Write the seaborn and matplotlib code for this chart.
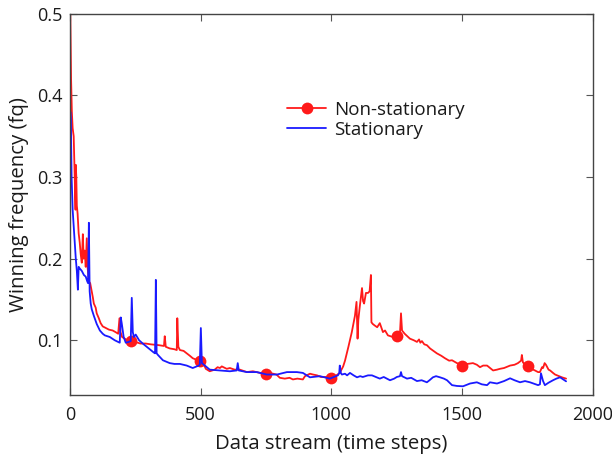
import matplotlib
matplotlib.use("Agg")
import matplotlib.pyplot as plt
import seaborn as sns
import pandas as pd

# ---- data ----
red_x = [0, 2, 5, 8, 11, 15, 19, 22, 23, 25, 27, 30, 34, 38, 42, 46, 50, 53, 57, 61, 65, 68, 73, 78, 84, 88, 92, 99, 103, 111,
         118, 126, 138, 150, 164, 175, 185, 190, 194, 200, 210, 220, 233, 250, 270, 290, 310, 340, 360, 363, 367, 382, 400, 409,
         411, 415, 421, 435, 447, 459, 470, 485, 497, 510, 520, 535, 554, 565, 574, 581, 600, 612, 630, 650, 677, 700, 727, 750,
         765, 790, 803, 822, 840, 853, 870, 891, 899, 918, 930, 945, 960, 980, 1000, 1015, 1032, 1045, 1052, 1065, 1078, 1090,
         1096, 1100, 1103, 1108, 1117, 1121, 1125, 1132, 1140, 1146, 1151, 1153, 1158, 1166, 1175, 1185, 1197, 1205, 1216, 1235,
         1250, 1262, 1266, 1270, 1280, 1300, 1315, 1327, 1335, 1340, 1346, 1355, 1365, 1377, 1390, 1403, 1420, 1434, 1450, 1461,
         1480, 1500, 1520, 1541, 1556, 1568, 1580, 1595, 1610, 1618, 1633, 1644, 1660, 1683, 1700, 1713, 1725, 1728, 1732, 1740,
         1750, 1765, 1778, 1790, 1797, 1805, 1809, 1815, 1820, 1830, 1836, 1847, 1855, 1870, 1881, 1897]
red_y = [0.5, 0.5, 0.42, 0.38, 0.36, 0.35, 0.30, 0.26, 0.315, 0.30, 0.265, 0.255, 0.231, 0.22, 0.205, 0.195, 0.23, 0.20, 0.21,
         0.19, 0.225, 0.19, 0.172, 0.17, 0.16, 0.153, 0.145, 0.14, 0.133, 0.127, 0.121, 0.117, 0.115, 0.113, 0.112, 0.110, 0.108,
         0.127, 0.110, 0.104, 0.102, 0.100, 0.099, 0.098, 0.096, 0.096, 0.095, 0.094, 0.093, 0.105, 0.092, 0.090, 0.089, 0.088,
         0.127, 0.092, 0.088, 0.087, 0.084, 0.081, 0.078, 0.076, 0.074, 0.072, 0.065, 0.062, 0.064, 0.067, 0.066, 0.068, 0.065,
         0.066, 0.064, 0.064, 0.061, 0.062, 0.060, 0.059, 0.060, 0.058, 0.054, 0.053, 0.054, 0.052, 0.053, 0.052, 0.056, 0.059,
         0.058, 0.057, 0.055, 0.055, 0.054, 0.056, 0.060, 0.068, 0.075, 0.092, 0.110, 0.130, 0.147, 0.102, 0.125, 0.140, 0.164,
         0.148, 0.145, 0.158, 0.158, 0.160, 0.180, 0.122, 0.120, 0.118, 0.116, 0.121, 0.110, 0.112, 0.106, 0.104, 0.105, 0.108,
         0.133, 0.112, 0.108, 0.102, 0.100, 0.098, 0.101, 0.097, 0.099, 0.095, 0.094, 0.090, 0.087, 0.084, 0.081, 0.078, 0.075,
         0.0755, 0.072, 0.069, 0.071, 0.072, 0.070, 0.067, 0.069, 0.069, 0.065, 0.063, 0.064, 0.065, 0.066, 0.069, 0.070, 0.072,
         0.075, 0.082, 0.073, 0.070, 0.068, 0.065, 0.063, 0.061, 0.061, 0.067, 0.066, 0.072, 0.070, 0.064, 0.063, 0.060, 0.058,
         0.056, 0.0546, 0.053]
red_marker_x = [233, 497, 750, 1000, 1250, 1500, 1750]

blue_x = [0, 2, 4, 7, 11, 15, 19, 23, 27, 31, 34, 38, 46, 54, 61, 67, 70, 73, 76, 80, 84, 92, 103, 115, 126, 134, 153, 172, 185,
          191, 195, 199, 206, 214, 225, 233, 237, 241, 245, 252, 265, 279, 302, 321, 326, 329, 332, 337, 356, 382, 400, 421, 447,
          470, 493, 497, 501, 505, 509, 535, 574, 612, 638, 642, 646, 677, 715, 753, 792, 830, 868, 891, 918, 956, 994, 1010, 1025,
          1030, 1032, 1036, 1040, 1052, 1060, 1071, 1085, 1098, 1110, 1120, 1140, 1155, 1170, 1185, 1200, 1224, 1240, 1250, 1262,
          1266, 1270, 1289, 1305, 1327, 1345, 1365, 1375, 1388, 1400, 1415, 1430, 1442, 1461, 1480, 1503, 1530, 1556, 1575, 1595,
          1606, 1633, 1660, 1683, 1700, 1721, 1740, 1759, 1790, 1797, 1801, 1809, 1816, 1830, 1847, 1860, 1874, 1897]
blue_y = [0.26, 0.38, 0.37, 0.30, 0.26, 0.24, 0.22, 0.20, 0.185, 0.162, 0.19, 0.188, 0.185, 0.18, 0.178, 0.172, 0.17, 0.244, 0.16,
          0.145, 0.138, 0.13, 0.12, 0.112, 0.108, 0.106, 0.104, 0.100, 0.098, 0.097, 0.128, 0.12, 0.104, 0.097, 0.098, 0.099, 0.152,
          0.11, 0.104, 0.107, 0.100, 0.096, 0.090, 0.085, 0.084, 0.174, 0.084, 0.082, 0.0755, 0.072, 0.071, 0.071, 0.069, 0.066,
          0.069, 0.07, 0.115, 0.072, 0.071, 0.064, 0.063, 0.062, 0.063, 0.072, 0.063, 0.061, 0.061, 0.058, 0.058, 0.061, 0.061,
          0.060, 0.0546, 0.056, 0.053, 0.055, 0.057, 0.060, 0.069, 0.060, 0.058, 0.059, 0.057, 0.060, 0.057, 0.0546, 0.056, 0.055,
          0.057, 0.057, 0.055, 0.053, 0.055, 0.051, 0.053, 0.055, 0.056, 0.061, 0.056, 0.053, 0.054, 0.050, 0.051, 0.0485, 0.051,
          0.0546, 0.056, 0.0546, 0.053, 0.051, 0.045, 0.044, 0.0436, 0.047, 0.0485, 0.046, 0.045, 0.0485, 0.047, 0.050, 0.0534,
          0.051, 0.0485, 0.050, 0.0485, 0.045, 0.046, 0.0595, 0.050, 0.045, 0.048, 0.051, 0.053, 0.0546, 0.0497]

series_labels = ["Non-stationary", "Stationary"]
x_ticks = [0, 500, 1000, 1500, 2000]
y_ticks = [0.1, 0.2, 0.3, 0.4, 0.5]
x_label = "Data stream (time steps)"
y_label = "Winning frequency (fq)"

# ---- style ----
sns.set_style("ticks")
plt.rcParams["font.family"] = ["Open Sans", "DejaVu Sans"]
plt.rcParams["xtick.direction"] = "in"
plt.rcParams["ytick.direction"] = "in"

fig = plt.figure(figsize=(6.12, 4.63), dpi=100)
ax = fig.add_axes([0.114, 0.147, 0.855, 0.823])

red_df = pd.DataFrame({"x": red_x, "y": red_y})
blue_df = pd.DataFrame({"x": blue_x, "y": blue_y})
mark_idx = [red_x.index(v) for v in red_marker_x]

sns.lineplot(data=red_df, x="x", y="y", ax=ax, color="#ff1a1a", linewidth=1.3,
             marker="o", markersize=8.5, markevery=mark_idx, markeredgewidth=0,
             label=series_labels[0], estimator=None, sort=False)
sns.lineplot(data=blue_df, x="x", y="y", ax=ax, color="#1a1aff", linewidth=1.3,
             label=series_labels[1], estimator=None, sort=False)

ax.set_xlim(0, 2000)
ax.set_ylim(0.033, 0.5)
ax.set_xticks(x_ticks)
ax.set_yticks(y_ticks)
ax.set_xticklabels([str(t) for t in x_ticks])
ax.set_yticklabels([f"{t:.1f}" for t in y_ticks])
ax.tick_params(axis="both", which="both", direction="in", top=True, right=True,
               length=5, width=0.8, color="#555555", labelsize=13, labelcolor="#1a1a1a")
ax.tick_params(axis="x", pad=8)
ax.tick_params(axis="y", pad=5)
for s in ax.spines.values():
    s.set_visible(True)
    s.set_color("#444444")
    s.set_linewidth(1.0)

ax.set_xlabel(x_label, fontsize=14.7, color="#1a1a1a", labelpad=7)
ax.set_ylabel(y_label, fontsize=14.7, color="#1a1a1a", labelpad=6)

leg = ax.legend(loc="center left", bbox_to_anchor=(0.415, 0.722), frameon=False,
                fontsize=13.5, handlelength=2.1, handletextpad=0.4, labelspacing=0.1,
                borderpad=0, borderaxespad=0)
for t in leg.get_texts():
    t.set_color("#1a1a1a")

fig.savefig("out.png", dpi=100)
